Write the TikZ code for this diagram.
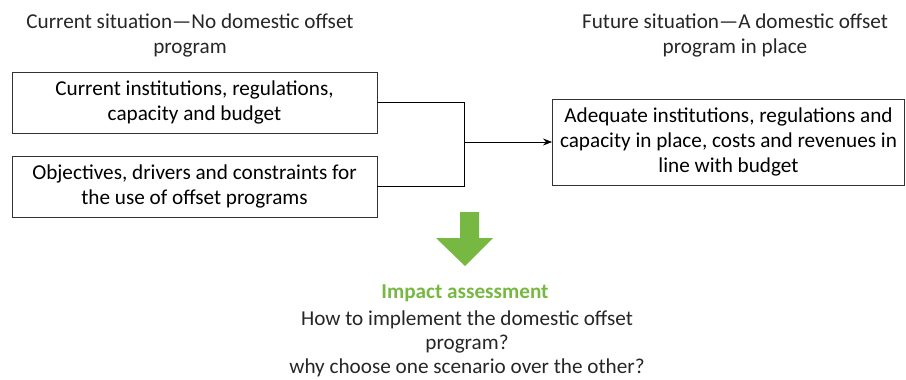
\documentclass[tikz,border=0pt]{standalone}
\usepackage{fontspec}
\setmainfont{Carlito}
\usetikzlibrary{arrows.meta}
\definecolor{grn}{HTML}{77B843}
\definecolor{edge}{HTML}{333333}
\tikzset{
  box/.style={draw=edge, line width=0.9pt, align=center, inner sep=0pt, font=\fontsize{21.2}{25}\selectfont},
  lbl/.style={align=center, inner sep=0pt, font=\fontsize{21.2}{25}\selectfont, text=black!85},
  conn/.style={draw=black, line width=0.9pt},
}
\begin{document}
\begin{tikzpicture}[x=1pt,y=-1pt]
\useasboundingbox (0,0) rectangle (906,380);
\node[lbl] (h1) at (190,35) {Current situation—No domestic offset\\program};
\node[lbl] (h2) at (735,35) {Future situation—A domestic offset\\program in place};
\node[box, minimum width=365pt, minimum height=61pt] (b1) at (194.5,102.5) {Current institutions, regulations,\\capacity and budget};
\node[box, minimum width=365pt, minimum height=61pt] (b2) at (194.5,186.5) {Objectives, drivers and constraints for\\the use of offset programs};
\node[box, minimum width=352pt, minimum height=86pt] (b3) at (728.5,142) {Adequate institutions, regulations and\\capacity in place, costs and revenues in\\line with budget};
\coordinate (j1) at (464,102.5);
\coordinate (j2) at (464,186.5);
\coordinate (jm) at (464,142);
\draw[conn] (b1.east) -- (j1) -- (j2) -- (b2.east);
\draw[conn, -{Stealth[length=9pt,width=7pt]}] (jm) -- (b3.west);
\fill[grn] (460,212) -- (479,212) -- (479,238) -- (493,238) -- (465,266) -- (436,238) -- (460,238) -- cycle;
\node[lbl, font=\bfseries\fontsize{21.2}{25}\selectfont, text=grn] (ia) at (465,293) {Impact assessment};
\node[lbl, font=\fontsize{21.2}{24}\selectfont] (q) at (467,344) {How to implement the domestic offset\\program?\\why choose one scenario over the other?};
\end{tikzpicture}
\end{document}
